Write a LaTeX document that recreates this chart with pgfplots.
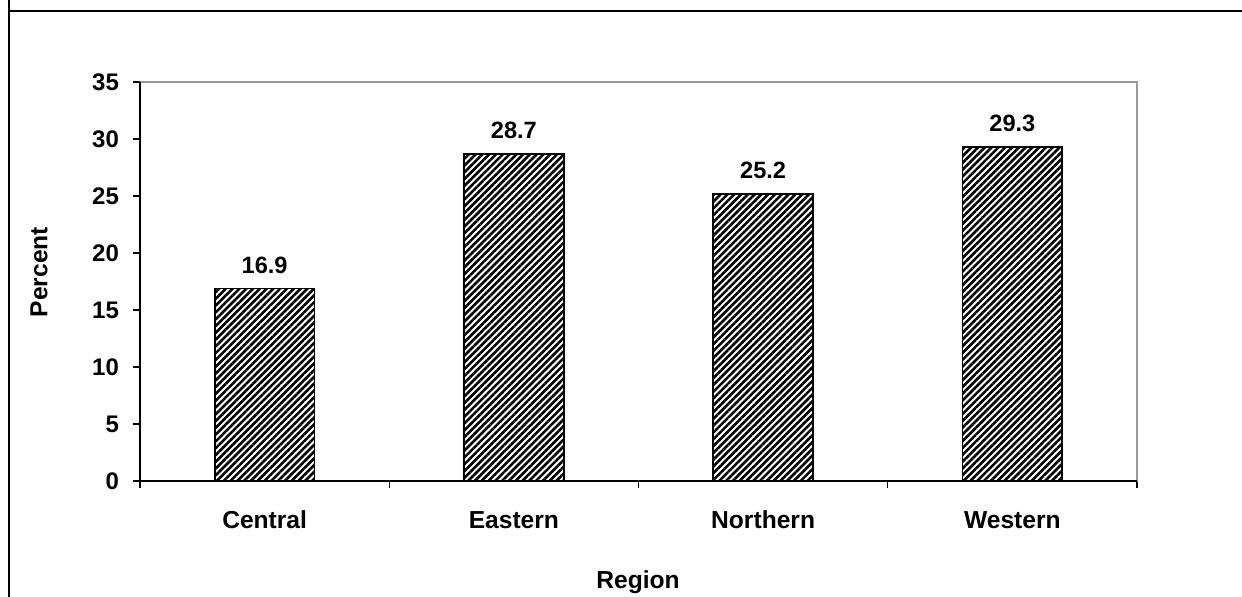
\documentclass[border=0pt]{standalone}
\usepackage{pgfplots}
\pgfplotsset{compat=1.18}
\usepackage{fontspec}
\setmainfont{Liberation Sans}
\usetikzlibrary{patterns.meta}
\begin{document}
\begin{tikzpicture}
\useasboundingbox (0pt,0pt) rectangle (621pt,298pt);
\clip (0pt,0pt) rectangle (621pt,298pt);
\draw[line width=0.9pt] (4.5pt,310pt) -- (4.5pt,292.5pt) -- (640pt,292.5pt);
\draw[line width=0.9pt] (4.5pt,292.5pt) -- (4.5pt,-10pt);
\begin{axis}[
  at={(70pt,57.5pt)}, anchor=south west,
  scale only axis, width=498.5pt, height=199.5pt,
  xmin=-0.5, xmax=3.5, ymin=0, ymax=35,
  ytick={0,5,...,35},
  xtick={-0.5,0.5,...,3.5},
  xticklabels={},
  extra x ticks={0,1,2,3},
  extra x tick labels={Central,Eastern,Northern,Western},
  extra x tick style={major tick length=0pt, tick style={draw=none}},
  tick pos=left,
  tick align=outside,
  major tick length=3.5pt,
  tick style={black, line width=0.6pt},
  axis line style={draw=gray!80, line width=0.7pt},
  /pgf/number format/assume math mode=true,
  ticklabel style={font=\fontsize{12}{14}\selectfont\bfseries},
  xticklabel style={font=\fontsize{12.3}{14}\selectfont\bfseries, anchor=base, yshift=-23.5pt},
  yticklabel style={xshift=-3.5pt},
  nodes near coords,
  nodes near coords style={font=\fontsize{11.8}{13}\selectfont\bfseries, anchor=base, yshift=7.5pt, /pgf/number format/fixed, /pgf/number format/precision=1, /pgf/number format/fixed zerofill},
  clip=false,
]
\addplot[ybar, bar width=0.4, draw=black, line width=0.8pt,
  pattern={Lines[angle=45,distance=2.4pt,line width=1.3pt]}, pattern color=black]
  coordinates {(0,16.9) (1,28.7) (2,25.2) (3,29.3)};
\draw[black, line width=0.8pt] (rel axis cs:0,0) -- (rel axis cs:0,1);
\draw[black, line width=0.8pt] (rel axis cs:0,0) -- (rel axis cs:1,0);
\pgfplotsinvokeforeach{0,5,10,15,20,25,30,35}{
  \draw[black, line width=0.6pt] (axis cs:-0.5,#1) -- ++(-3.5pt,0pt);
}
\end{axis}
\node[rotate=90, font=\fontsize{12.3}{14}\selectfont\bfseries] at (19.5pt,162pt) {Percent};
\node[font=\fontsize{12.3}{14}\selectfont\bfseries] at (319pt,7pt) {Region};
\end{tikzpicture}
\end{document}
